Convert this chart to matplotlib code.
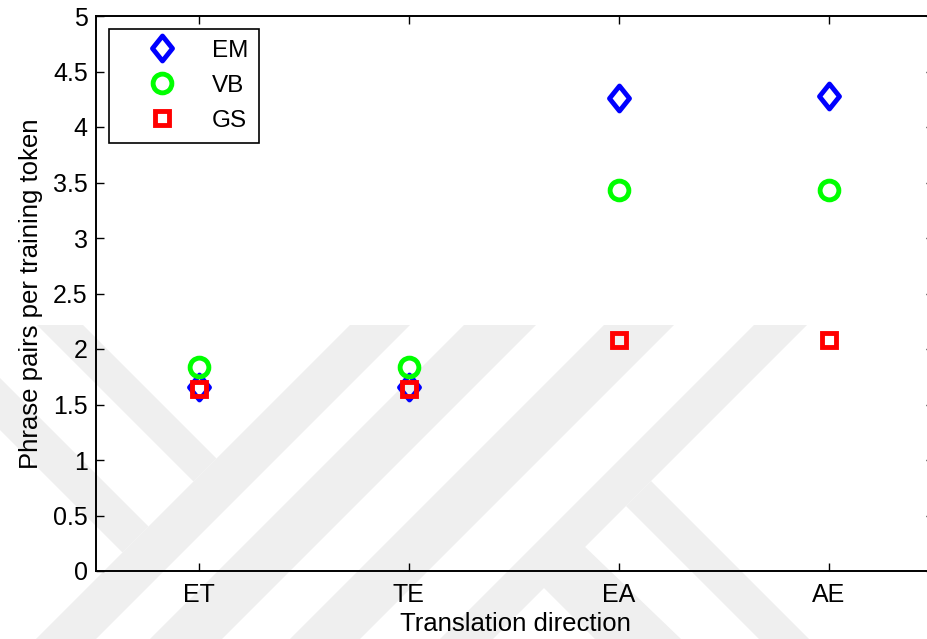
import numpy as np
import matplotlib
matplotlib.use('Agg')
import matplotlib.pyplot as plt
from matplotlib.path import Path

plt.rcParams['font.family'] = ['Liberation Sans', 'DejaVu Sans']

# phrase pairs per training token, per translation direction
directions = ['ET', 'TE', 'EA', 'AE']
em = [1.66, 1.66, 4.26, 4.28]
vb = [1.84, 1.84, 3.43, 3.43]
gs = [1.64, 1.64, 2.08, 2.08]

W, H = 928, 639
fig = plt.figure(figsize=(W / 100, H / 100), dpi=100)

# faint background stripes (pixel coords, y down)
bg = fig.add_axes([0, 0, 1, 1], zorder=-1)
bg.set_xlim(0, W)
bg.set_ylim(H, 0)
bg.axis('off')
wm = '#efefef'
def slash(c1, c2, ytop):
    return [(c1 - ytop, ytop), (c2 - ytop, ytop), (c2 - H, H), (c1 - H, H)]
for c1, c2 in [(675, 735), (789, 861), (929, 999), (1079, 1132)]:
    bg.fill(*zip(*slash(c1, c2, 325)), color=wm, lw=0)
stripes = [
    [(37, 325), (83, 325), (216.5, 458.5), (193.5, 481.5)],
    [(0, 378), (0, 430), (122.5, 552.5), (148.5, 526.5)],
    [(651, 481), (626, 506), (759, 639), (809, 639)],
    [(581, 543), (540, 584), (595, 639), (681, 639)],
]
for p in stripes:
    bg.fill(*zip(*p), color=wm, lw=0)

ax = fig.add_axes([96 / W, 1 - 571 / H, (934 - 96) / W, (571 - 16) / H])
ax.set_facecolor('none')

diamond = Path([(0, 1), (0.8, 0), (0, -1), (-0.8, 0), (0, 1)],
               [Path.MOVETO, Path.LINETO, Path.LINETO, Path.LINETO, Path.CLOSEPOLY])

x = np.arange(1, len(directions) + 1)
ax.plot(x, em, ls='none', marker=diamond, ms=18, mfc='none', mec='#0000ff', mew=3.5,
        label='EM', zorder=3)
ax.plot(x, vb, ls='none', marker='o', ms=13.5, mfc='none', mec='#00ff00', mew=3.5,
        label='VB', zorder=4)
ax.plot(x, gs, ls='none', marker='s', ms=10, mfc='none', mec='#ff0000', mew=3.5,
        label='GS', zorder=5)

ax.set_xlim(0.51, 4.5)
ax.set_ylim(0, 5)
ax.set_xticks(x)
ax.set_xticklabels(directions)
ax.set_yticks(np.arange(0, 5.01, 0.5))
ax.set_yticklabels(['0', '0.5', '1', '1.5', '2', '2.5', '3', '3.5', '4', '4.5', '5'])
ax.tick_params(direction='in', length=6, width=1, labelsize=18, top=True, right=True)
ax.tick_params(axis='y', pad=6)
ax.tick_params(axis='x', pad=9)
for s in ax.spines.values():
    s.set_linewidth(1.4)

ax.set_xlabel('Translation direction', fontsize=18.5, labelpad=3)
ax.set_ylabel('Phrase pairs per training token', fontsize=18.5, labelpad=7)

leg = ax.legend(loc='upper left', bbox_to_anchor=(13 / 838, 1 - 13 / 555), fontsize=17.5,
                frameon=True, fancybox=False, edgecolor='black', framealpha=1,
                borderpad=0.45, labelspacing=0.53, handlelength=3.42, handletextpad=0.35,
                borderaxespad=0)
leg.get_frame().set_linewidth(1.2)

fig.savefig('out.png', dpi=100)
